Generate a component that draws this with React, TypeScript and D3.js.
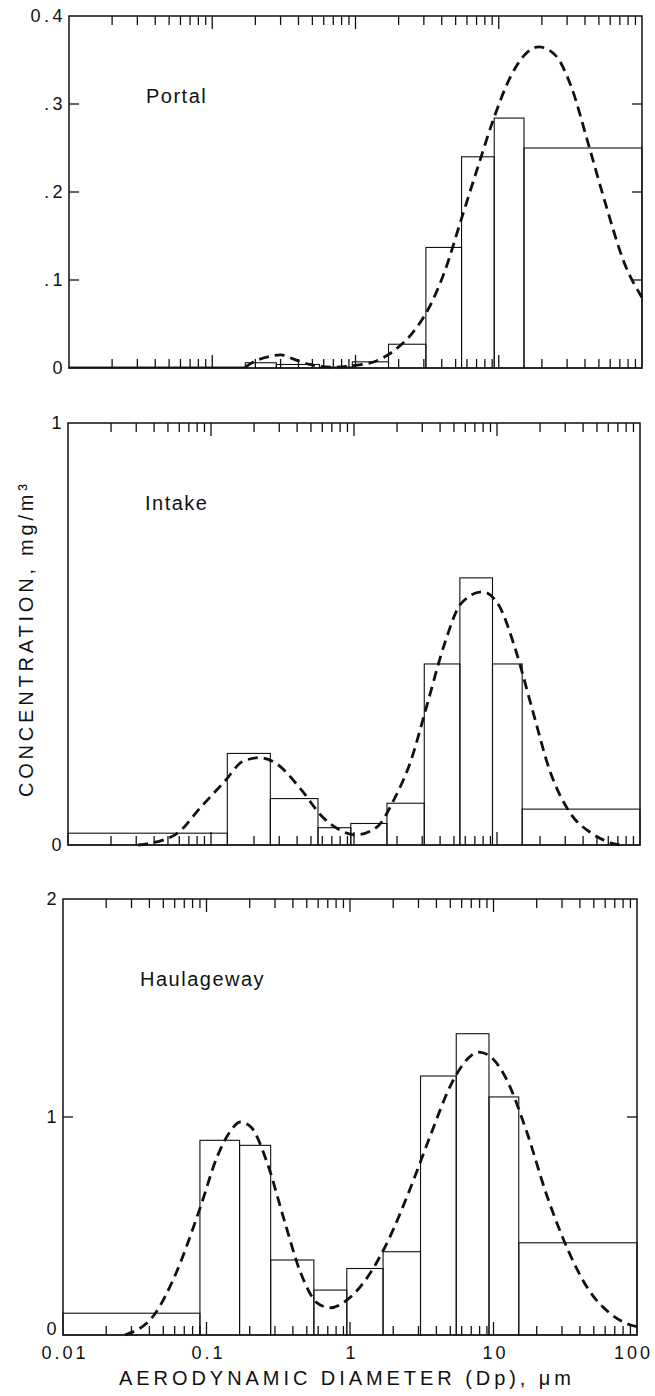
import React, { useEffect, useRef } from 'react';
import * as d3 from 'd3';

// impactor stage boundaries (um) and measured concentration (mg/m3)
const portalEdges = [0.01, 0.09, 0.17, 0.28, 0.56, 0.95, 1.7, 3.1, 5.5, 9.3, 15, 100];
const portalConc = [0.001, 0.001, 0.006, 0.004, 0.001, 0.007, 0.027, 0.137, 0.24, 0.284, 0.25];
const portalFit: [number, number][] = [
  [0.17, 0.001], [0.2, 0.008], [0.25, 0.013], [0.3, 0.015], [0.37, 0.01], [0.48, 0.004],
  [0.7, 0.001], [1.0, 0.003], [1.4, 0.008], [1.8, 0.018], [2.5, 0.04], [3.2, 0.066],
  [4.2, 0.11], [5.5, 0.17], [7.2, 0.23], [9.2, 0.283], [12, 0.33], [15, 0.355],
  [19, 0.365], [25, 0.355], [32, 0.32], [43, 0.25], [56, 0.185], [75, 0.12], [100, 0.08],
];

const intakeEdges = [0.01, 0.13, 0.26, 0.56, 0.95, 1.7, 3.1, 5.5, 9.3, 15, 100];
const intakeConc = [0.028, 0.217, 0.11, 0.041, 0.051, 0.099, 0.429, 0.633, 0.429, 0.085];
const intakeFit: [number, number][] = [
  [0.031, 0], [0.056, 0.024], [0.085, 0.09], [0.127, 0.154], [0.165, 0.197], [0.218, 0.207],
  [0.286, 0.193], [0.43, 0.13], [0.6, 0.067], [0.79, 0.036], [1.03, 0.024], [1.45, 0.043],
  [1.9, 0.107], [2.5, 0.2], [3.26, 0.335], [4.3, 0.477], [5.6, 0.572], [7.9, 0.6],
  [10.3, 0.568], [13.5, 0.462], [17.7, 0.32], [23.3, 0.178], [32.6, 0.075], [45.8, 0.028],
  [64, 0.004], [72, 0],
];

const haulEdges = [0.01, 0.09, 0.17, 0.28, 0.56, 0.95, 1.7, 3.1, 5.5, 9.3, 15, 100];
const haulConc = [0.1, 0.893, 0.87, 0.344, 0.206, 0.305, 0.382, 1.188, 1.382, 1.092, 0.423];
const haulFit: [number, number][] = [
  [0.027, 0], [0.044, 0.1], [0.061, 0.28], [0.091, 0.59], [0.119, 0.82], [0.145, 0.93],
  [0.172, 0.977], [0.204, 0.954], [0.266, 0.786], [0.348, 0.527], [0.455, 0.282],
  [0.596, 0.145], [0.73, 0.125], [0.95, 0.16], [1.33, 0.267], [1.85, 0.435], [2.6, 0.664],
  [3.6, 0.908], [5.07, 1.15], [6.6, 1.267], [7.85, 1.298], [9.3, 1.282], [12.1, 1.183],
  [16.9, 0.939], [23.7, 0.634], [33.1, 0.389], [46.2, 0.206], [64.6, 0.1], [90, 0.046],
  [100, 0.038],
];

const portalYTicks = [0, 0.1, 0.2, 0.3, 0.4];
const portalYLabels = ['0', '.1', '.2', '.3', '0.4'];
const intakeYTicks = [0, 1];
const intakeYLabels = ['0', '1'];
const haulYTicks = [0, 1, 2];
const haulYLabels = ['0', '1', '2'];

const xTicks = [0.01, 0.1, 1, 10, 100];
const xTickLabels = ['0.01', '0.1', '1', '10', '100'];

const panels = [
  { name: 'Portal', edges: portalEdges, conc: portalConc, fit: portalFit, yTicks: portalYTicks, yLabels: portalYLabels },
  { name: 'Intake', edges: intakeEdges, conc: intakeConc, fit: intakeFit, yTicks: intakeYTicks, yLabels: intakeYLabels },
  { name: 'Haulageway', edges: haulEdges, conc: haulConc, fit: haulFit, yTicks: haulYTicks, yLabels: haulYLabels },
];

// frame of each panel on the page (the scan is slightly skewed)
const frames = [
  { left: 69, right: 642, top: 16, bottom: 368 },
  { left: 68, right: 640, top: 423, bottom: 845 },
  { left: 63, right: 637, top: 899, bottom: 1335 },
];

const W = 655;
const H = 1396;
const FONT = '"Liberation Sans", Arial, Helvetica, sans-serif';

const App = () => {
  const ref = useRef<SVGSVGElement | null>(null);

  useEffect(() => {
    const svg = d3.select(ref.current);
    svg.selectAll('*').remove();

    svg.append('rect').attr('width', W).attr('height', H).attr('fill', '#fff');

    panels.forEach((p, i) => {
      const f = frames[i];
      const last = i === panels.length - 1;
      const x = d3.scaleLog().domain([0.01, 100]).range([f.left, f.right]);
      const y = d3.scaleLinear()
        .domain([0, p.yTicks[p.yTicks.length - 1]])
        .range([f.bottom, f.top]);

      const g = svg.append('g');

      // histogram bars
      g.selectAll('rect.bar')
        .data(p.conc)
        .enter()
        .append('rect')
        .attr('class', 'bar')
        .attr('x', (d, j) => x(p.edges[j]))
        .attr('width', (d, j) => x(p.edges[j + 1]) - x(p.edges[j]))
        .attr('y', d => y(d))
        .attr('height', d => y(0) - y(d))
        .attr('fill', 'none')
        .attr('stroke', '#111')
        .attr('stroke-width', 1.1);

      // log-normal fit, dashed
      const line = d3.line<[number, number]>()
        .x(d => x(d[0]))
        .y(d => y(d[1]))
        .curve(d3.curveMonotoneX);

      g.append('path')
        .datum(p.fit)
        .attr('d', line)
        .attr('fill', 'none')
        .attr('stroke', '#111')
        .attr('stroke-width', 2.8)
        .attr('stroke-dasharray', '10,6');

      // frame
      g.append('rect')
        .attr('x', f.left)
        .attr('y', f.top)
        .attr('width', f.right - f.left)
        .attr('height', f.bottom - f.top)
        .attr('fill', 'none')
        .attr('stroke', '#111')
        .attr('stroke-width', 1.5);

      // log ticks, top and bottom, pointing inward
      const logTicks = x.ticks().filter(t => t > 0.01 && t < 100);
      logTicks.forEach(t => {
        const major = Math.abs(Math.log10(t) - Math.round(Math.log10(t))) < 1e-6;
        const len = major ? 13 : 9;
        const px = x(t);
        g.append('line')
          .attr('x1', px).attr('x2', px)
          .attr('y1', f.top).attr('y2', f.top + len)
          .attr('stroke', '#111').attr('stroke-width', 1.3);
        g.append('line')
          .attr('x1', px).attr('x2', px)
          .attr('y1', f.bottom).attr('y2', f.bottom - len)
          .attr('stroke', '#111').attr('stroke-width', 1.3);
      });

      // y ticks, inward on both sides
      p.yTicks.slice(1, -1).forEach(t => {
        g.append('line')
          .attr('x1', f.left).attr('x2', f.left + 10)
          .attr('y1', y(t)).attr('y2', y(t))
          .attr('stroke', '#111').attr('stroke-width', 1.3);
        g.append('line')
          .attr('x1', f.right).attr('x2', f.right - 10)
          .attr('y1', y(t)).attr('y2', y(t))
          .attr('stroke', '#111').attr('stroke-width', 1.3);
      });

      // y tick labels (the lowest one of the last panel sits a bit higher)
      g.selectAll('text.ylab')
        .data(p.yTicks)
        .enter()
        .append('text')
        .attr('class', 'ylab')
        .attr('x', f.left - 3)
        .attr('y', d => y(d) - (last && d === 0 ? 6 : 0))
        .attr('dy', '0.36em')
        .attr('text-anchor', 'end')
        .style('font-family', FONT)
        .style('font-size', '18px')
        .style('letter-spacing', '3.5px')
        .attr('fill', '#111')
        .text((d, j) => p.yLabels[j]);

      // panel name
      g.append('text')
        .attr('x', f.left + 77)
        .attr('y', f.top + 87)
        .style('font-family', FONT)
        .style('font-size', '20px')
        .style('letter-spacing', '1.5px')
        .attr('fill', '#111')
        .text(p.name);

      // x labels only under the last panel; the last one is pulled in from the edge
      if (last) {
        g.selectAll('text.xlab')
          .data(xTicks)
          .enter()
          .append('text')
          .attr('class', 'xlab')
          .attr('x', (d, j) => (j === xTicks.length - 1 ? W - 2 : x(d) + 2))
          .attr('y', f.bottom + 24)
          .attr('text-anchor', (d, j) => (j === xTicks.length - 1 ? 'end' : 'middle'))
          .style('font-family', FONT)
          .style('font-size', '18px')
          .style('letter-spacing', '3px')
          .attr('fill', '#111')
          .text((d, j) => xTickLabels[j]);
      }
    });

    // axis titles
    svg.append('text')
      .attr('x', 119)
      .attr('y', 1385)
      .attr('textLength', 452)
      .attr('lengthAdjust', 'spacing')
      .style('font-family', FONT)
      .style('font-size', '20px')
      .attr('fill', '#111')
      .text('AERODYNAMIC DIAMETER (Dp),  \u03bcm');

    svg.append('text')
      .attr('transform', 'translate(33,797) rotate(-90)')
      .attr('x', 0)
      .attr('y', 0)
      .attr('textLength', 313)
      .attr('lengthAdjust', 'spacing')
      .style('font-family', FONT)
      .style('font-size', '20px')
      .attr('fill', '#111')
      .text('CONCENTRATION, mg/m\u00b3');
  }, []);

  return (
    <svg
      ref={ref}
      width={W}
      height={H}
      style={{ position: 'absolute', left: 0, top: 0, display: 'block' }}
    />
  );
};

export default App;
